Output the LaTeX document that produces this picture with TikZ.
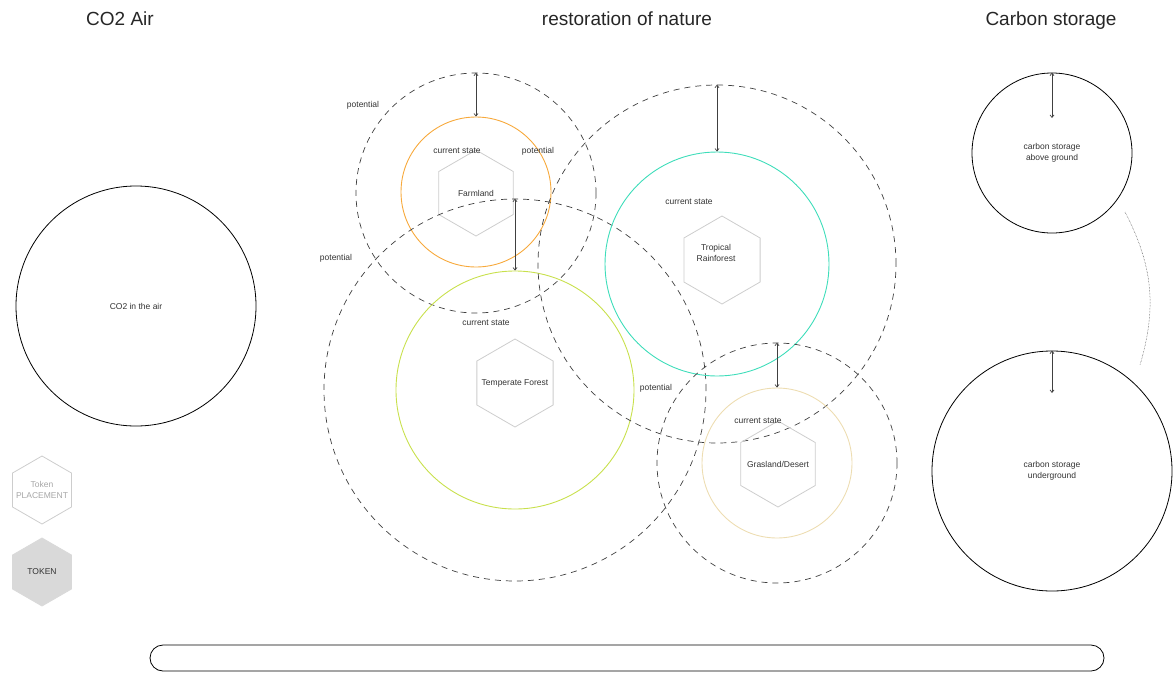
\documentclass[tikz,border=0pt]{standalone}
\usepackage{fontspec}
\setmainfont{Liberation Sans}
\usetikzlibrary{shapes.geometric, arrows.meta}

\definecolor{farmorange}{HTML}{F7A93C}
\definecolor{forestlime}{HTML}{C8E04C}
\definecolor{tropicteal}{HTML}{3EDDBA}
\definecolor{grassbeige}{HTML}{EDDDB2}
\definecolor{hexgrey}{HTML}{CDCDCD}
\definecolor{tokenfill}{HTML}{D9D9D9}

\tikzset{
	zone/.style={circle, draw, inner sep=0pt, minimum size=#1},
	potential/.style={zone=#1, draw=black!75, dash pattern=on 6pt off 5pt, line width=0.7pt},
	current/.style={zone=#1, line width=0.9pt},
	hexa/.style={regular polygon, regular polygon sides=6, shape border rotate=30,
		draw=hexgrey, line width=0.8pt, inner sep=0pt, minimum size=#1},
	lbl/.style={font=\fontsize{8.5}{10.5}\selectfont, text=black!80, align=center},
	title/.style={font=\fontsize{19}{22}\selectfont, text=black!85, anchor=base},
	gauge/.style={{Straight Barb[length=2.5pt,width=4pt]}-{Straight Barb[length=2.5pt,width=4pt]}, black!75, line width=0.7pt},
}

\begin{document}
\begin{tikzpicture}[x=1pt, y=-1pt]
	\useasboundingbox (0,0) rectangle (1173,673);

	% titles
	\node[title] (ttlair) at (120,25) {CO2 Air};
	\node[title] (ttlnature) at (627,25) {restoration of nature};
	\node[title] (ttlstore) at (1051,25) {Carbon storage};

	% co2 in the air
	\node[zone=240pt, line width=0.8pt, lbl] (air) at (136,306) {CO2 in the air};

	% tokens
	\node[hexa=68pt, label={[lbl, text=black!35]center:Token\\PLACEMENT}] (placement) at (42,490) {};
	\node[hexa=68pt, fill=tokenfill, draw=tokenfill, label={[lbl]center:TOKEN}] (token) at (42,572) {};

	% farmland
	\node[potential=240pt] (farmpot) at (476,193) {};
	\node[current=150pt, draw=farmorange] (farmcur) at (476,192) {};
	\node[hexa=86pt, label={[lbl]center:Farmland}] (farm) at (476,193) {};
	\draw[gauge] (farmpot.north) -- (farmcur.north);
	\node[lbl] (farmcs) at (457,151) {current state};
	\node[lbl] (farmpl) at (538,151) {potential};
	\node[lbl] (farmpo) at (363,105) {potential};

	% temperate forest
	\node[potential=382pt] (temppot) at (515,390) {};
	\node[current=238pt, draw=forestlime] (tempcur) at (515,390) {};
	\node[hexa=88pt, label={[lbl]center:Temperate Forest}] (temp) at (515,383) {};
	\draw[gauge] (temppot.north) -- (tempcur.north);
	\node[lbl] (tempcs) at (486,323) {current state};
	\node[lbl] (temppo) at (336,258) {potential};

	% tropical rainforest
	\node[potential=358pt] (tropot) at (717,264) {};
	\node[current=224pt, draw=tropicteal] (trocur) at (717,264) {};
	\node[hexa=88pt] (tro) at (722,260) {};
	\node[lbl] (trotxt) at (716,253) {Tropical\\Rainforest};
	\draw[gauge] (tropot.north) -- (trocur.north);
	\node[lbl] (trocs) at (689,202) {current state};
	\node[lbl] (tropo) at (656,388) {potential};

	% grasland / desert
	\node[potential=240pt] (grasspot) at (777,463) {};
	\node[current=150pt, draw=grassbeige] (grasscur) at (777,463) {};
	\node[hexa=86pt, label={[lbl]center:Grasland/Desert}] (grass) at (778,464) {};
	\draw[gauge] (grasspot.north) -- (grasscur.north);
	\node[lbl] (grasscs) at (758,421) {current state};

	% carbon storage
	\node[zone=160pt, line width=0.8pt, lbl] (above) at (1052,153) {carbon storage\\above ground};
	\node[zone=240pt, line width=0.8pt, lbl] (under) at (1052,471) {carbon storage\\underground};
	\coordinate (abovetip) at (1052,118);
	\coordinate (undertip) at (1052,393);
	\draw[gauge] (above.north) -- (abovetip);
	\draw[gauge] (under.north) -- (undertip);
	\coordinate (linkA) at (1125,212);
	\coordinate (linkB) at (1140,365);
	\draw[densely dotted, black!75, line width=0.5pt] (linkA) to[bend left=22] (linkB);

	% timeline bar
	\node[draw, rounded corners=13pt, minimum width=954pt, minimum height=26pt, line width=0.8pt] (bar) at (627,658) {};
\end{tikzpicture}
\end{document}
